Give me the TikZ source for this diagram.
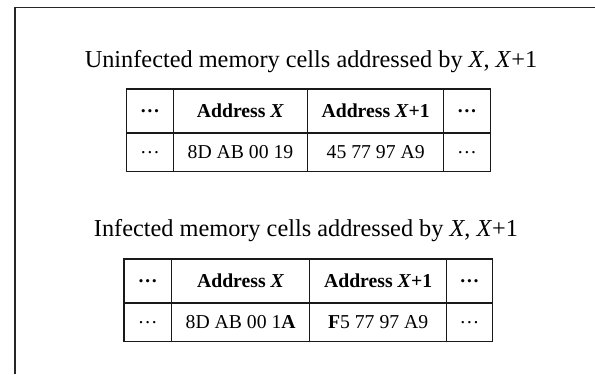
\documentclass[tikz,border=0pt]{standalone}
\usepackage{fontspec}
\setmainfont{Liberation Serif}
\usetikzlibrary{positioning}

\tikzset{
  frameline/.style={line width=1.5bp, black!85},
  title/.style={anchor=base, inner sep=0pt, font=\fontsize{24.3bp}{28bp}\selectfont},
  cell/.style={draw, line width=1.3bp, black!90, text=black, anchor=north west,
    inner sep=0pt, font=\fontsize{19.7bp}{23bp}\selectfont}
}

\begin{document}
\begin{tikzpicture}[x=1bp, y=-1bp]
  \useasboundingbox (0,0) rectangle (595,374);

  % frame (cut off at the right and bottom)
  \draw[frameline] (15,374) -- (15,7.5) -- (595,7.5);

  % uninfected cells
  \node[title] (title1) at (311,67) {Uninfected memory cells addressed by \textit{X}, \textit{X}+1};
  \foreach \c/\xl/\w/\hd/\dt in {
    a/125.7/47/{\textbf{…}}/{…},
    b/172.7/134.3/{\textbf{Address \textit{X}}}/{8D AB 00 19},
    c/307/136/{\textbf{Address \textit{X}+1}}/{45 77 97 A9},
    d/443/46.5/{\textbf{…}}/{…}
  } {
    \node[cell, minimum width=\w bp, minimum height=44bp] (uh\c) at (\xl,88.3) {\hd};
    \node[cell, minimum width=\w bp, minimum height=38.4bp] (ud\c) at (\xl,132.3) {\dt};
  }

  % infected cells
  \node[title] (title2) at (306,236.5) {Infected memory cells addressed by \textit{X}, \textit{X}+1};
  \foreach \c/\xl/\w/\hd/\dt in {
    a/123.3/47.7/{\textbf{…}}/{…},
    b/171/138/{\textbf{Address \textit{X}}}/{8D AB 00 1\textbf{A}},
    c/309/137/{\textbf{Address \textit{X}+1}}/{\textbf{F}5 77 97 A9},
    d/446/45.5/{\textbf{…}}/{…}
  } {
    \node[cell, minimum width=\w bp, minimum height=44bp] (ih\c) at (\xl,258.3) {\hd};
    \node[cell, minimum width=\w bp, minimum height=38.4bp] (id\c) at (\xl,302.3) {\dt};
  }
\end{tikzpicture}
\end{document}
